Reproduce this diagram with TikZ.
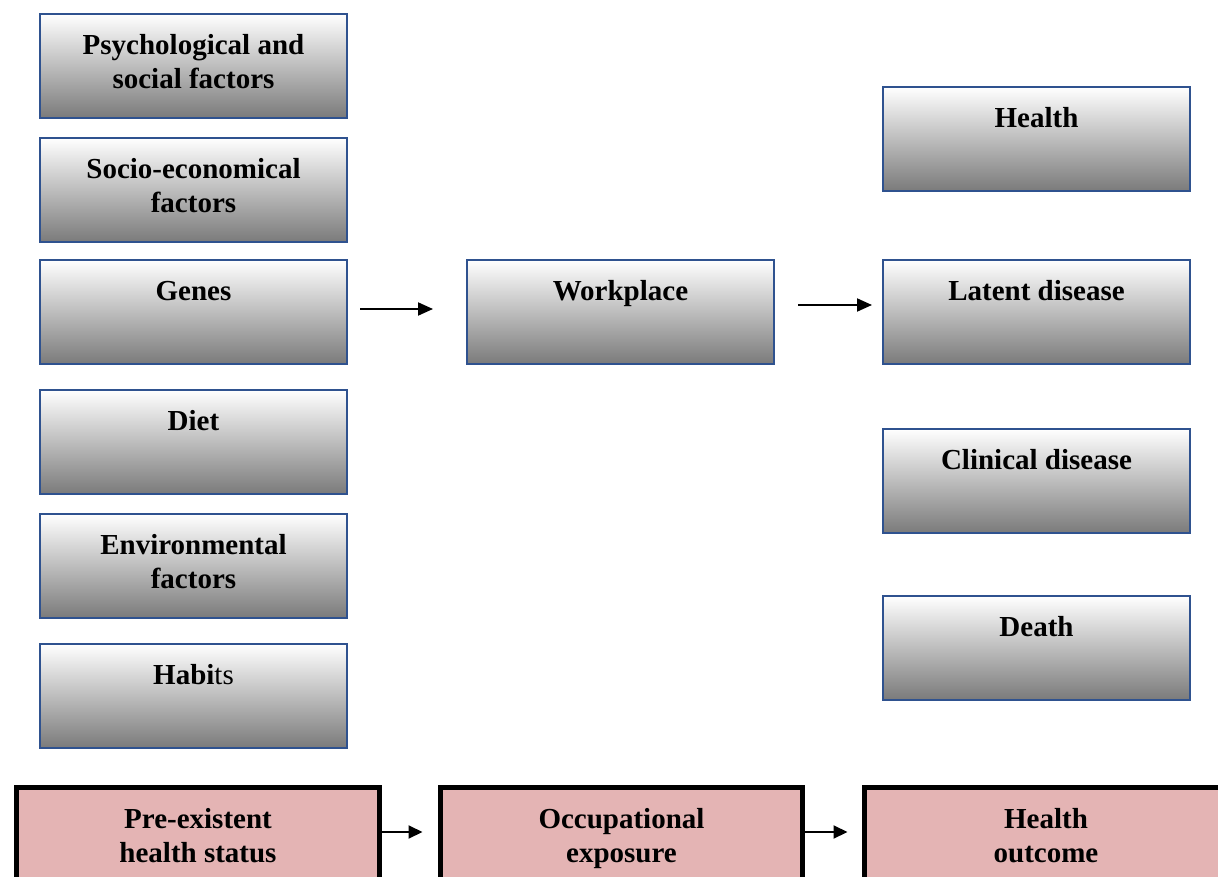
\documentclass[tikz,border=0pt]{standalone}
\usepackage{fontspec}
\setmainfont{Liberation Serif}
\usetikzlibrary{arrows.meta}
\definecolor{boxblue}{RGB}{47,82,143}
\definecolor{boxpink}{RGB}{228,180,180}
\newcommand\gtxt[3]{\parbox[t][#2pt][t]{#1pt}{\centering\fontsize{29pt}{34pt}\selectfont\bfseries\rule{0pt}{40.5pt}#3}}
\tikzset{
  gbox/.style={draw=boxblue, line width=1.5pt, top color=white, bottom color=black!52, inner sep=0pt, outer sep=0pt},
  pbox/.style={draw=black, line width=5pt, fill=boxpink, inner sep=0pt, outer sep=0pt},
  arr/.style={line width=2pt, -{Triangle[length=15pt,width=13pt]}},
  arrs/.style={line width=2pt, -{Triangle[length=14pt,width=13pt]}}
}
\begin{document}
\begin{tikzpicture}[x=1pt,y=-1pt]
\useasboundingbox (0,0) rectangle (1218,877);
\clip (0,0) rectangle (1218,877);
% left column
\node[gbox] (psy) at (193.5,66) {\gtxt{307}{104}{Psychological and\\social factors}};
\node[gbox] (soc) at (193.5,190) {\gtxt{307}{104}{Socio-economical\\factors}};
\node[gbox] (gen) at (193.5,312) {\gtxt{307}{104}{Genes}};
\node[gbox] (die) at (193.5,442) {\gtxt{307}{104}{Diet}};
\node[gbox] (env) at (193.5,566) {\gtxt{307}{104}{Environmental\\factors}};
\node[gbox] (hab) at (193.5,696) {\gtxt{307}{104}{Habi\mdseries ts}};
% middle
\node[gbox] (wrk) at (620.5,312) {\gtxt{307}{104}{Workplace}};
% right column
\node[gbox] (hea) at (1036.5,139) {\gtxt{307}{104}{Health}};
\node[gbox] (lat) at (1036.5,312) {\gtxt{307}{104}{Latent disease}};
\node[gbox] (cli) at (1036.5,481) {\gtxt{307}{104}{Clinical disease}};
\node[gbox] (dea) at (1036.5,648) {\gtxt{307}{104}{Death}};
% arrows top
\draw[arr, shorten <=13pt, shorten >=34pt] ([yshift=3pt]gen.east) -- ([yshift=3pt]wrk.west);
\draw[arr, shorten <=24pt, shorten >=11pt] ([yshift=7pt]wrk.east) -- ([yshift=7pt]lat.west);
% bottom boxes
\node[pbox, anchor=north west] (pre) at (16.5,787.5) {\gtxt{363}{120}{Pre-existent\\health status}};
\node[pbox, anchor=north west] (occ) at (440.5,787.5) {\gtxt{362}{120}{Occupational\\exposure}};
\node[pbox, anchor=north west] (out) at (864.5,787.5) {\gtxt{363}{120}{Health\\outcome}};
\draw[arrs, shorten <=2.5pt, shorten >=18pt] ([yshift=-44.5pt]pre.north east) -- ([yshift=-44.5pt]occ.north west);
\draw[arrs, shorten <=2.5pt, shorten >=17pt] ([yshift=-44.5pt]occ.north east) -- ([yshift=-44.5pt]out.north west);
\end{tikzpicture}
\end{document}
